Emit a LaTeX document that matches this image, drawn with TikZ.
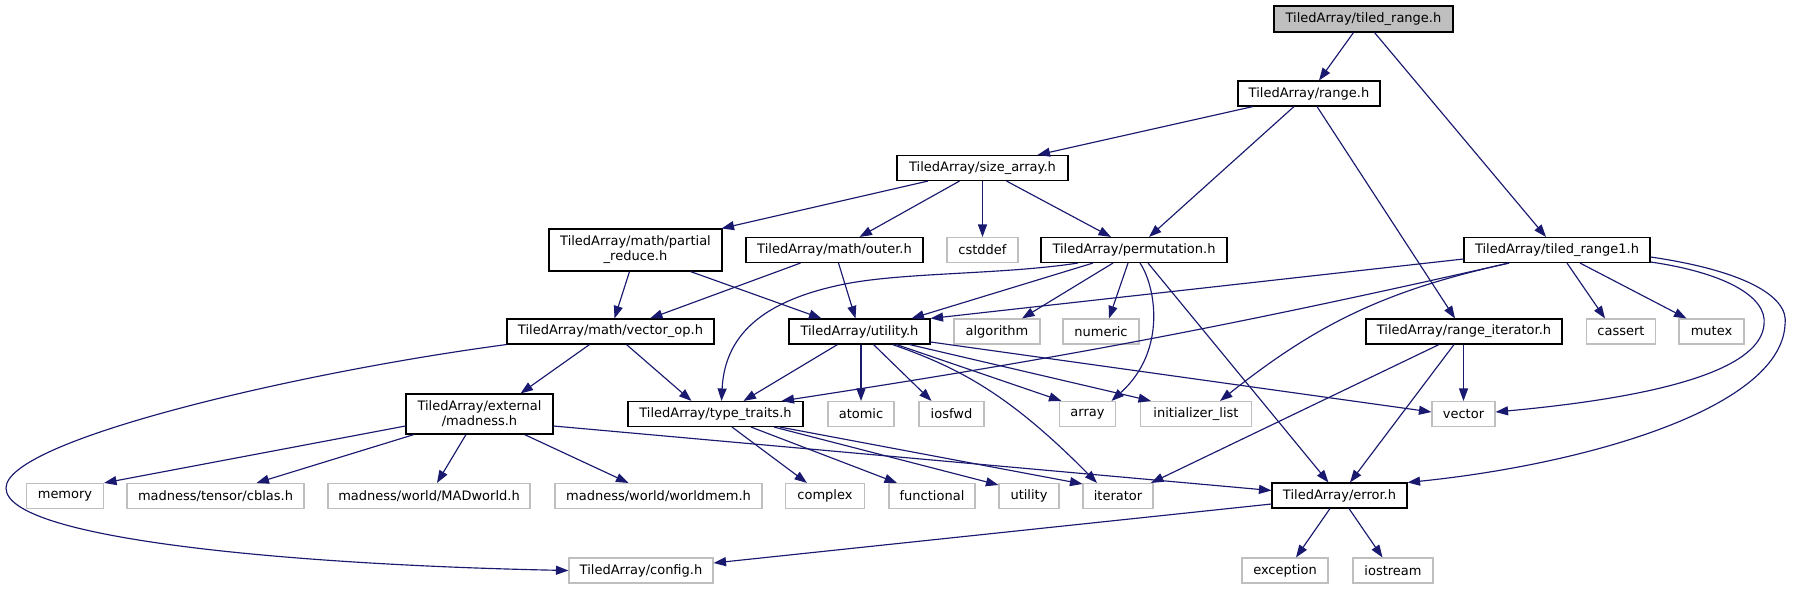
\documentclass[tikz,border=0pt]{standalone}
\usepackage{fontspec}
\setmainfont{DejaVu Sans}
\usetikzlibrary{arrows.meta}
\definecolor{edgeblue}{HTML}{191970}
\definecolor{grey75}{HTML}{BFBFBF}
\begin{document}
\begin{tikzpicture}[x=1pt,y=-1pt,
  box/.style={rectangle, inner sep=0pt, minimum height=25pt, line width=1.1pt,
    font=\fontsize{13}{15}\selectfont, text=black, align=center},
  doc/.style={box, draw=black, fill=white},
  ext/.style={box, draw=grey75, fill=white},
  root/.style={box, draw=black, fill=grey75, minimum height=26pt},
  dep/.style={draw=edgeblue, line width=1.15pt, -{Triangle[length=12.5pt,width=9pt]}, fill=none},
]
\useasboundingbox (0,0) rectangle (1793,589);
\fill[white] (0,0) rectangle (1793,589);

% nodes
\node[root, minimum width=179pt] (tr) at (1363.5,19) {TiledArray/tiled\_range.h};
\node[doc, minimum width=142pt] (range) at (1309,93.5) {TiledArray/range.h};
\node[doc, minimum width=171pt] (sa) at (982.5,168) {TiledArray/size\_array.h};
\node[doc, minimum width=173pt, minimum height=42pt] (pr) at (635.5,250) {TiledArray/math/partial\\\_reduce.h};
\node[doc, minimum width=177pt] (outer) at (834.5,250) {TiledArray/math/outer.h};
\node[ext, minimum width=71pt] (cstddef) at (982.5,250) {cstddef};
\node[doc, minimum width=186pt] (perm) at (1134,250) {TiledArray/permutation.h};
\node[doc, minimum width=186pt] (tr1) at (1557,250) {TiledArray/tiled\_range1.h};
\node[doc, minimum width=207pt] (vop) at (610.5,331.5) {TiledArray/math/vector\_op.h};
\node[doc, minimum width=141pt] (util) at (859.5,331.5) {TiledArray/utility.h};
\node[ext, minimum width=86pt] (algorithm) at (997,331.5) {algorithm};
\node[ext, minimum width=76pt] (numeric) at (1101,331.5) {numeric};
\node[doc, minimum width=196pt] (ri) at (1464,331.5) {TiledArray/range\_iterator.h};
\node[ext, minimum width=69pt] (cassert) at (1621,331.5) {cassert};
\node[ext, minimum width=65pt] (mutex) at (1711.5,331.5) {mutex};
\node[doc, minimum width=147pt, minimum height=40pt] (mad) at (479.5,414) {TiledArray/external\\/madness.h};
\node[doc, minimum width=175pt] (tt) at (715.5,414) {TiledArray/type\_traits.h};
\node[ext, minimum width=66pt] (atomic) at (861,414) {atomic};
\node[ext, minimum width=65pt] (iosfwd) at (951.5,414) {iosfwd};
\node[ext, minimum width=56pt] (array) at (1087.5,414) {array};
\node[ext, minimum width=111pt] (il) at (1196,414) {initializer\_list};
\node[ext, minimum width=63pt] (vector) at (1463.5,414) {vector};
\node[ext, minimum width=77pt] (memory) at (65,496) {memory};
\node[ext, minimum width=177pt] (cblas) at (215.5,496) {madness/tensor/cblas.h};
\node[ext, minimum width=202pt] (madworld) at (429,496) {madness/world/MADworld.h};
\node[ext, minimum width=207pt] (worldmem) at (658.5,496) {madness/world/worldmem.h};
\node[ext, minimum width=79pt] (complex) at (825,496) {complex};
\node[ext, minimum width=86pt] (functional) at (932,496) {functional};
\node[ext, minimum width=60pt] (utilstd) at (1029,496) {utility};
\node[ext, minimum width=70pt] (iterator) at (1118,496) {iterator};
\node[doc, minimum width=135pt] (error) at (1339.5,495.5) {TiledArray/error.h};
\node[ext, minimum width=144pt] (config) at (641,570.5) {TiledArray/config.h};
\node[ext, minimum width=86pt] (exception) at (1285,570.5) {exception};
\node[ext, minimum width=80pt] (iostream) at (1393,570.5) {iostream};

% edges
\draw[dep] ([xshift=-10pt]tr.south) -- ([xshift=10pt]range.north);
\draw[dep] ([xshift=11pt]tr.south) -- ([xshift=-11pt]tr1.north);
\draw[dep] ([xshift=-56pt]range.south) -- ([xshift=55pt]sa.north);
\draw[dep] ([xshift=-15pt]range.south) -- ([xshift=15pt]perm.north);
\draw[dep] ([xshift=8pt]range.south) -- ([xshift=-9pt]ri.north);
\draw[dep] ([xshift=-54.5pt]sa.south) -- ([xshift=-1pt]pr.north east);
\draw[dep] ([xshift=-23pt]sa.south) -- ([xshift=25pt]outer.north);
\draw[dep] (sa.south) -- (cstddef.north);
\draw[dep] ([xshift=24pt]sa.south) -- ([xshift=-23pt]perm.north);
\draw[dep] ([xshift=-6pt]pr.south) -- ([xshift=4pt]vop.north);
\draw[dep] ([xshift=55pt]pr.south) -- ([xshift=-38pt]util.north);
\draw[dep] ([xshift=-34pt]outer.south) -- ([xshift=39.5pt]vop.north);
\draw[dep] ([xshift=4pt]outer.south) -- ([xshift=-4pt]util.north);
\draw[dep] ([xshift=-41pt]perm.south) -- ([xshift=52pt]util.north);
\draw[dep] ([xshift=-56pt]perm.south) .. controls (1000,275) and (900,272) .. (840,285)
   .. controls (770,300) and (725,330) .. ([xshift=6pt]tt.north);
\draw[dep] ([xshift=-21pt]perm.south) -- ([xshift=25pt]algorithm.north);
\draw[dep] ([xshift=-6pt]perm.south) -- ([xshift=8pt]numeric.north);
\draw[dep] ([xshift=6pt]perm.south) .. controls (1155,285) and (1168,350) .. ([xshift=24pt]array.north);
\draw[dep] ([xshift=14pt]perm.south) -- ([xshift=-11pt]error.north);
\draw[dep] ([yshift=-9pt]tr1.west) -- (util.north east);
\draw[dep] ([xshift=-48pt]tr1.south) to[bend left=2] ([xshift=66pt]tt.north);
\draw[dep] ([xshift=-48pt]tr1.south) to[bend right=13] ([xshift=24pt]il.north);
\draw[dep] ([xshift=10pt]tr1.south) -- ([xshift=-16pt]cassert.north);
\draw[dep] ([xshift=23pt]tr1.south) -- ([xshift=-25pt]mutex.north);
\draw[dep] ([yshift=-12pt]tr1.east) .. controls (1720,272) and (1768,295) .. (1764,325)
   .. controls (1760,365) and (1680,395) .. ([yshift=2pt]vector.east);
\draw[dep] ([yshift=-7pt]tr1.east) .. controls (1740,270) and (1790,295) .. (1785,325)
   .. controls (1780,410) and (1580,465) .. (error.north east);
\draw[dep] ([xshift=-21pt]vop.south) -- ([xshift=41pt]mad.north);
\draw[dep] ([xshift=16pt]vop.south) -- ([xshift=-24pt]tt.north);
\draw[dep] (vop.south west) .. controls (300,372) and (6,440) .. (6,488)
   .. controls (6,540) and (300,565) .. (config.west);
\draw[dep] ([xshift=-22pt]util.south) -- ([xshift=28pt]tt.north);
\draw[dep] (atomic.north |- util.south) -- (atomic.north);
\draw[dep] ([xshift=14pt]util.south) -- ([xshift=-20pt]iosfwd.north);
\draw[dep] ([xshift=37pt]util.south) -- ([xshift=-26pt]array.north);
\draw[dep] ([xshift=50pt]util.south) -- ([xshift=-45pt]il.north);
\draw[dep] ([yshift=-10.5pt]util.east) -- ([yshift=2pt]vector.west);
\draw[dep] ([xshift=33pt]util.south) .. controls (960,368) and (1010,395) .. ([xshift=-21pt]iterator.north);
\draw[dep] (vector.north |- ri.south) -- (vector.north);
\draw[dep] ([xshift=-10pt]ri.south) -- ([xshift=10.5pt]error.north);
\draw[dep] ([xshift=-25pt]ri.south) -- ([xshift=33pt]iterator.north);
\draw[dep] ([yshift=-12pt]mad.west) -- (memory.north east);
\draw[dep] ([xshift=-65.5pt]mad.south) -- ([xshift=41pt]cblas.north);
\draw[dep] ([xshift=-13.5pt]mad.south) -- ([xshift=8pt]madworld.north);
\draw[dep] ([xshift=45pt]mad.south) -- ([xshift=-30pt]worldmem.north);
\draw[dep] ([yshift=-12pt]mad.east) -- ([yshift=5pt]error.west);
\draw[dep] ([xshift=16.5pt]tt.south) -- ([xshift=-18pt]complex.north);
\draw[dep] ([xshift=35.5pt]tt.south) -- ([xshift=-35pt]functional.north);
\draw[dep] ([xshift=58.5pt]tt.south) -- ([yshift=-2pt]utilstd.north west);
\draw[dep] ([xshift=64.5pt]tt.south) -- ([yshift=-1pt]iterator.north west);
\draw[dep] ([yshift=-8.5pt]error.west) -- ([yshift=7.5pt]config.east);
\draw[dep] ([xshift=-9.5pt]error.south) -- ([xshift=11pt]exception.north);
\draw[dep] ([xshift=9.5pt]error.south) -- ([xshift=-10.5pt]iostream.north);
\end{tikzpicture}
\end{document}
